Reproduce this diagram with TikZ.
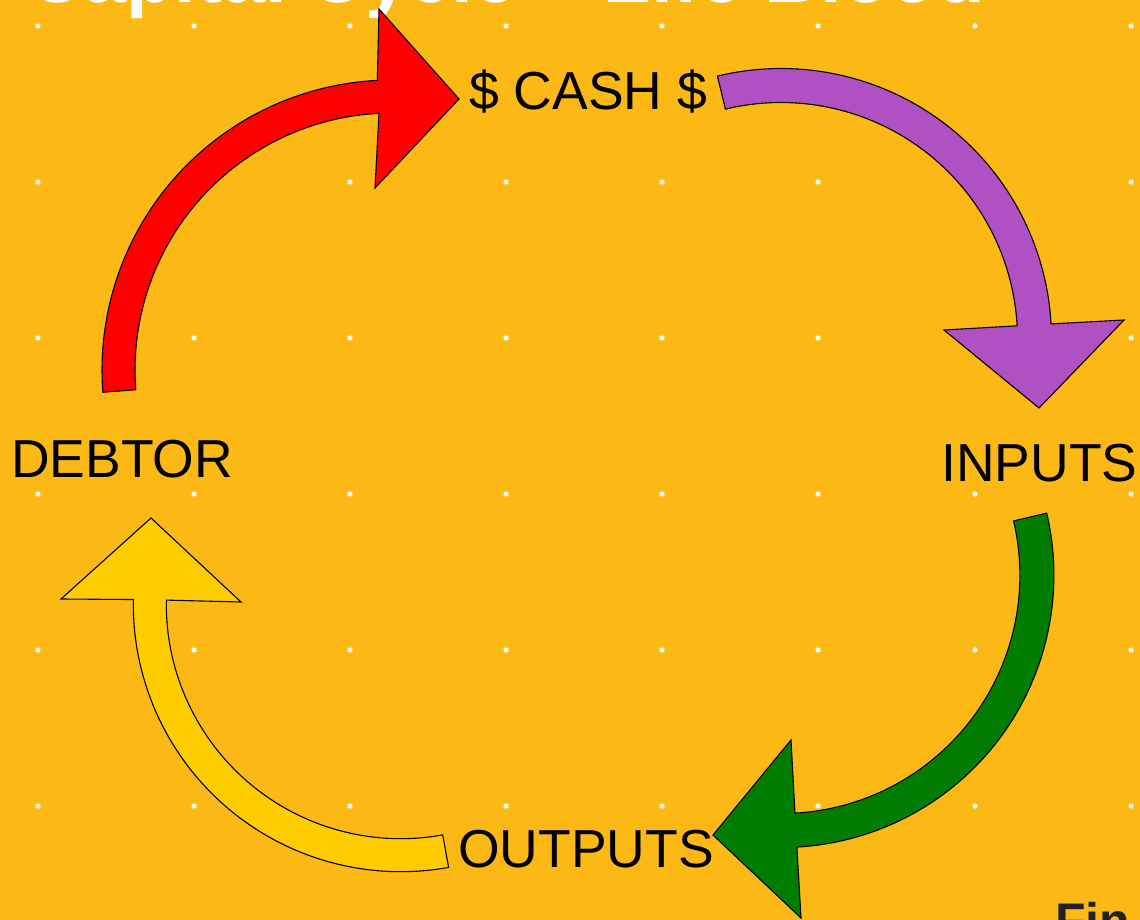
\documentclass[tikz,border=0pt]{standalone}
\usepackage{fontspec}
\setmainfont{Liberation Sans}
\definecolor{bgorange}{RGB}{252,185,22}
\definecolor{cred}{RGB}{255,0,0}
\definecolor{cpurple}{RGB}{176,80,194}
\definecolor{cgreen}{RGB}{0,125,0}
\definecolor{cyellow}{RGB}{255,204,0}
\definecolor{darktext}{RGB}{34,34,34}
\begin{document}
\begin{tikzpicture}[x=1pt,y=1pt,
  blockarrow/.style={draw=black,line width=1.1pt,line join=miter},
  lbl/.style={font=\fontsize{53.5}{60}\selectfont,anchor=base west,inner sep=0pt,text=black},
  griddot/.style={fill=white,draw=none}]
\useasboundingbox (0,0) rectangle (1140,-920);
\clip (0,0) rectangle (1140,-920);
\fill[bgorange] (0,0) rectangle (1140,-920);
% dot grid
\foreach \gx in {38,194,350,506,662,818,975,1131}{
  \foreach \gy in {26,182,338,494,650,806}{
    \fill[griddot] (\gx,-\gy) circle[radius=2.6];
  }
}
% cropped title
\node[font=\bfseries\fontsize{78}{90}\selectfont,text=white,anchor=base west,inner sep=0pt] (title) at (27,-3) {Capital Cycle – Life Blood};
% red arrow (DEBTOR -> CASH)
\begin{scope}[shift={(392,-370)}]
\draw[blockarrow,fill=cred] (184.4:290) arc[start angle=184.4,end angle=92.9,radius=290]
  -- (-13,361) -- (67,271) -- (-17,182)
  -- (92.9:257) arc[start angle=92.9,end angle=184.4,radius=257] -- cycle;
\end{scope}
% purple arrow (CASH -> INPUTS)
\begin{scope}[shift={(781,-339)}]
\draw[blockarrow,fill=cpurple] (103.6:270.5) arc[start angle=103.6,end angle=3.2,radius=270.5]
  -- (343,19) -- (258,-69) -- (163,9)
  -- (3.2:236.5) arc[start angle=3.2,end angle=103.6,radius=236.5] -- cycle;
\end{scope}
% green arrow (INPUTS -> OUTPUTS)
\begin{scope}[shift={(781.7,-575.3)}]
\draw[blockarrow,fill=cgreen] (13.2:272.2) arc[start angle=13.2,end angle=-86.8,radius=272.2]
  -- (19.3,-342.7) -- (-68.7,-259.7) -- (9.3,-164.7)
  -- (-86.8:238.2) arc[start angle=-86.8,end angle=13.2,radius=238.2] -- cycle;
\end{scope}
% yellow arrow (OUTPUTS -> DEBTOR)
\begin{scope}[shift={(400.8,-604.2)}]
\draw[blockarrow,fill=cyellow] (-79.7:267.5) arc[start angle=-79.7,end angle=-181,radius=267.5]
  -- (-339.8,5.2) -- (-249.8,86.2) -- (-159.8,2.2)
  -- (-181:234.5) arc[start angle=-181,end angle=-79.7,radius=234.5] -- cycle;
\end{scope}
% labels
\node[lbl] (cash) at (469,-110) {\$ CASH \$};
\node[lbl] (inputs) at (941,-481) {INPUTS};
\node[lbl] (debtor) at (11,-477) {DEBTOR};
\node[lbl] (outputs) at (458,-867) {OUTPUTS};
% cropped footer text
\node[font=\bfseries\fontsize{50}{58}\selectfont,text=darktext,anchor=base west,inner sep=0pt] (fin) at (1055,-938) {Fin};
\end{tikzpicture}
\end{document}
